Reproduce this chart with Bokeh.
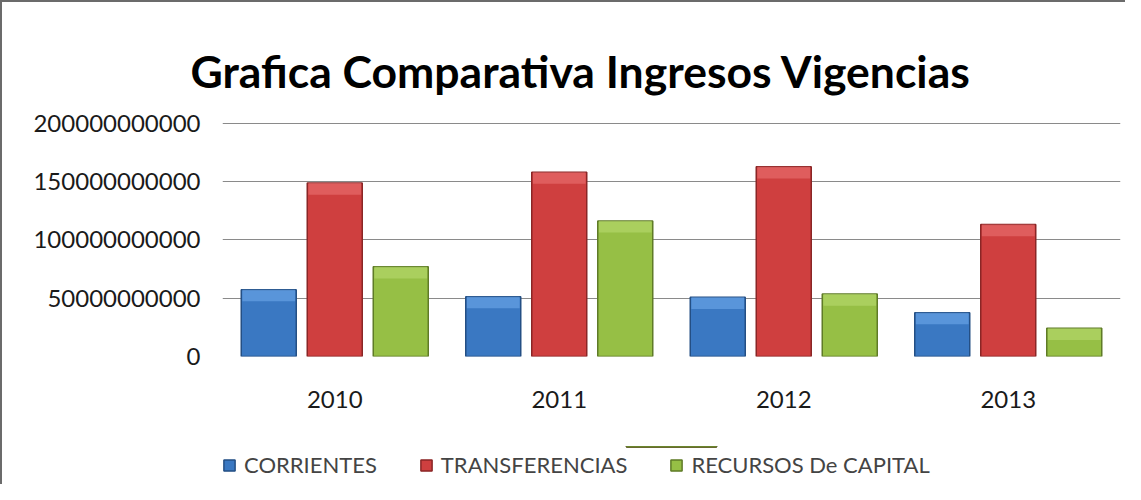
from bokeh.plotting import figure
from bokeh.layouts import column
from bokeh.models import (Range1d, FactorRange, FixedTicker, NumeralTickFormatter,
                          Legend, LegendItem)
from bokeh.transform import dodge
from bokeh.embed import file_html
from bokeh.resources import INLINE

years = ["2010", "2011", "2012", "2013"]
corrientes = [57.3e9, 51.3e9, 50.7e9, 37.6e9]
transferencias = [148.7e9, 158.0e9, 162.6e9, 113.1e9]
recursos_capital = [76.9e9, 116.2e9, 53.6e9, 24.2e9]
series_names = ["CORRIENTES", "TRANSFERENCIAS", "RECURSOS De CAPITAL"]
y_ticks = [0, 50e9, 100e9, 150e9, 200e9]
title_text = "Grafica Comparativa Ingresos Vigencias"

fills = ["#3a78c2", "#cf3f3f", "#96bf45"]
edges = ["#244f84", "#8a2626", "#5f7b27"]
highlights = ["#6ea9ea", "#e97272", "#b8da6f"]

FONT = "Lato"

p = figure(frame_width=898, frame_height=234,
           x_range=FactorRange(*years, range_padding=0),
           y_range=Range1d(0, 200.6e9), output_backend="svg", toolbar_location=None,
           min_border_left=220, min_border_right=5, min_border_top=120,
           min_border_bottom=90)
p.outline_line_color = None
p.background_fill_color = "white"
p.border_fill_color = "white"
p.xgrid.grid_line_color = None
p.ygrid.grid_line_color = "#8a8a8a"
p.ygrid.grid_line_width = 1

p.title.text = title_text
p.title.align = "left"
p.title.offset = -32
p.title.standoff = 52
p.title.text_font = FONT
p.title.text_font_style = "bold"
p.title.text_font_size = "44.5px"
p.title.text_color = "black"

bar_w = 0.245
step = 0.294
bevel = 10e9
keys = ["c", "t", "r"]
data = {"year": years, "c": corrientes, "t": transferencias, "r": recursos_capital}
data["c_b"] = [v - bevel for v in corrientes]
data["t_b"] = [v - bevel for v in transferencias]
data["r_b"] = [v - bevel for v in recursos_capital]

for i, key in enumerate(keys):
    off = (i - 1) * step
    p.vbar(x=dodge("year", off, range=p.x_range), top=key, bottom=0, width=bar_w,
           source=data, fill_color=fills[i], line_color=edges[i], line_width=1.5)
    p.vbar(x=dodge("year", off, range=p.x_range), top=key, bottom=key + "_b",
           width=bar_w - 0.01, source=data, fill_color=highlights[i], fill_alpha=0.6,
           line_color=None)

p.yaxis.ticker = FixedTicker(ticks=y_ticks)
p.yaxis.formatter = NumeralTickFormatter(format="0")
for ax in (p.xaxis[0], p.yaxis[0]):
    ax.axis_line_color = None
    ax.major_tick_line_color = None
    ax.minor_tick_line_color = None
    ax.major_tick_out = 0
    ax.major_tick_in = 0
    ax.major_label_text_font = FONT
    ax.major_label_text_font_size = "24px"
    ax.major_label_text_color = "#1a1a1a"
p.yaxis.major_label_standoff = 22
p.xaxis.major_label_standoff = 34

# legend strip underneath the chart (its frame is aligned with the chart's frame)
leg = figure(width=1123, height=38, x_range=(0, 1), y_range=(0, 1),
             output_backend="svg", toolbar_location=None, min_border=0,
             x_axis_location=None, y_axis_location=None)
leg.outline_line_color = None
leg.grid.grid_line_color = None
leg.border_fill_color = "white"
leg.background_fill_color = "white"
# the series bars sit far outside this strip's 0..1 range, so only their legend swatches show
leg_renderers = [leg.vbar(x=0.5, top=key, bottom=key, width=0.1, source=data,
                          fill_color=fills[i], line_color=edges[i], line_width=1.5)
                 for i, key in enumerate(keys)]
legend = Legend(items=[LegendItem(label=series_names[i], renderers=[leg_renderers[i]])
                       for i in range(3)],
                orientation="horizontal", location=(0, 6), padding=0, margin=0,
                spacing=42, glyph_width=14, glyph_height=14, label_standoff=8,
                label_text_font=FONT, label_text_font_size="22px",
                border_line_color=None, background_fill_alpha=0)
leg.add_layout(legend)

layout = column(p, leg, spacing=0)
layout.styles = {"border-left": "2px solid #6b6b6b", "border-top": "2px solid #6b6b6b"}

open("out.html", "w").write(file_html(layout, INLINE))
